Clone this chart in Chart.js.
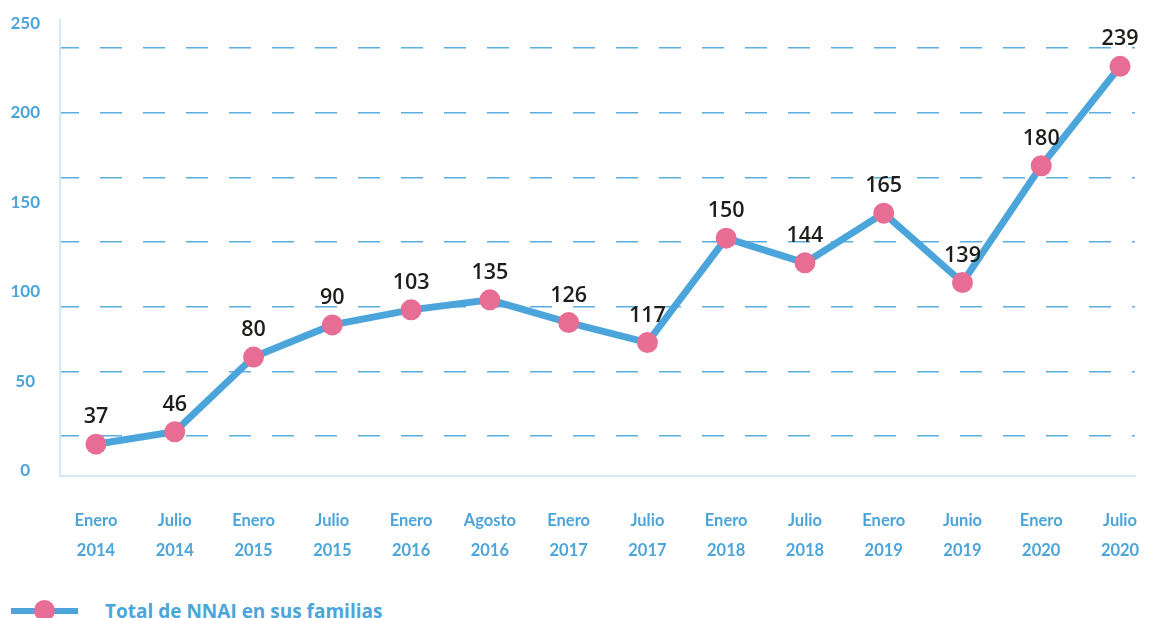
<!DOCTYPE html>
<html>
<head>
<meta charset="utf-8">
<script src="https://cdn.jsdelivr.net/npm/chart.js@4.4.1/dist/chart.umd.min.js"></script>
<style>
  body { margin: 0; background: #fff; overflow: hidden; }
  .wrap { position: relative; width: 1157px; height: 618px; }
  .chartBox { position: absolute; left: 0; top: 0; width: 1157px; height: 590px; }
  .legend { position: absolute; left: 0; top: 590px; width: 600px; height: 28px; }
  .legend .line { position: absolute; left: 11px; top: 18px; width: 67px; height: 6px; background: #4ca5da; }
  .legend .dot { position: absolute; left: 34px; top: 10px; width: 21px; height: 21px; border-radius: 50%; background: #e86d94; }
  .legend .txt { position: absolute; left: 105px; top: 8px; font: bold 19px "Open Sans", sans-serif; color: #4ca5da; white-space: nowrap; }
</style>
</head>
<body>
<div class="wrap">
  <div class="chartBox"><canvas id="chart"></canvas></div>
  <div class="legend">
    <span class="line"></span><span class="dot"></span>
    <span class="txt">Total de NNAJ en sus familias</span>
  </div>
</div>
<script>
// periods on the x axis (two lines each)
const periods = [
  ['Enero', '2014'], ['Julio', '2014'], ['Enero', '2015'], ['Julio', '2015'],
  ['Enero', '2016'], ['Agosto', '2016'], ['Enero', '2017'], ['Julio', '2017'],
  ['Enero', '2018'], ['Julio', '2018'], ['Enero', '2019'], ['Junio', '2019'],
  ['Enero', '2020'], ['Julio', '2020']
];
// where the dots sit on the axis
const plotted = [14.8, 21.7, 63.5, 81.5, 89.9, 95.5, 82.8, 71.6, 130.0, 116.2, 144.0, 105.2, 170.5, 226.1];
// numbers printed over the dots
const printed = [37, 46, 80, 90, 103, 135, 126, 117, 150, 144, 165, 139, 180, 239];
const yTicks = [0, 50, 100, 150, 200, 250];

const blue = '#4ca5da';
const pink = '#e86d94';
const axisLine = '#d3e8f4';

const yMin = -3, yMax = 252;
// dashed guide lines do not follow the labelled ticks
const gridStart = 19.4, gridStep = 36.15;

const pointLabels = {
  id: 'pointLabels',
  afterDatasetsDraw(chart) {
    const ctx = chart.ctx;
    const meta = chart.getDatasetMeta(0);
    ctx.save();
    ctx.font = '600 21.5px "Open Sans"';
    ctx.fillStyle = '#1d1d1b';
    ctx.textAlign = 'center';
    ctx.textBaseline = 'alphabetic';
    meta.data.forEach((pt, i) => {
      ctx.fillText(String(printed[i]), pt.x, pt.y - 21);
    });
    ctx.restore();
  }
};

new Chart(document.getElementById('chart'), {
  type: 'line',
  data: {
    datasets: [{
      label: 'Total de NNAJ en sus familias',
      data: plotted.map((v, i) => ({ x: i, y: v })),
      borderColor: blue,
      borderWidth: 7,
      tension: 0,
      pointRadius: 10.5,
      pointHoverRadius: 10.5,
      pointBackgroundColor: pink,
      pointBorderColor: pink,
      pointBorderWidth: 0,
      clip: false,
      yAxisID: 'y'
    }]
  },
  options: {
    responsive: true,
    maintainAspectRatio: false,
    animation: false,
    layout: { autoPadding: false, padding: { top: 20, right: 22, bottom: 0, left: 0 } },
    plugins: {
      legend: { display: false },
      tooltip: { enabled: false }
    },
    scales: {
      x: {
        type: 'linear',
        min: -0.457,
        max: 13.19,
        afterBuildTicks: axis => { axis.ticks = periods.map((_, i) => ({ value: i })); },
        afterFit: axis => { axis.height = 114; axis.paddingLeft = 0; axis.paddingRight = 0; },
        grid: { display: false, drawTicks: false },
        border: { display: true, color: axisLine, width: 2 },
        ticks: {
          autoSkip: false,
          maxRotation: 0,
          padding: 30,
          color: blue,
          font: { family: 'Lato', weight: 'bold', size: 16.5, lineHeight: 1.8 },
          callback: v => periods[v]
        }
      },
      y: {
        min: yMin,
        max: yMax,
        afterBuildTicks: axis => { axis.ticks = yTicks.map(v => ({ value: v })); },
        afterFit: axis => { axis.width = 60; axis.paddingTop = 0; axis.paddingBottom = 0; },
        grid: { display: false, drawTicks: false },
        border: { display: true, color: axisLine, width: 2 },
        ticks: {
          crossAlign: 'center',
          padding: 20,
          color: blue,
          font: { family: 'Lato', weight: 'bold', size: 17 }
        }
      },
      guide: {
        position: 'right',
        z: 1,
        min: (yMin - gridStart) / gridStep,
        max: (yMax - gridStart) / gridStep,
        afterBuildTicks: axis => {
          axis.ticks = axis.ticks.filter(t => Number.isInteger(t.value) && t.value >= 0);
        },
        afterFit: axis => { axis.width = 0; axis.paddingTop = 0; axis.paddingBottom = 0; },
        ticks: { display: false, stepSize: 1 },
        grid: { color: '#5aaee0', lineWidth: 1.5, drawTicks: false },
        border: { display: false, dash: [22, 21], dashOffset: 3 }
      }
    }
  },
  plugins: [pointLabels]
});
</script>
</body>
</html>
